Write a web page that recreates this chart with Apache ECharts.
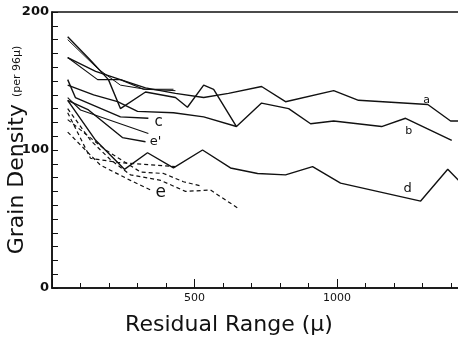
<!DOCTYPE html>
<html>
<head>
<meta charset="utf-8">
<script src="https://cdn.jsdelivr.net/npm/echarts@6/dist/echarts.min.js"></script>
<style>
  html, body { margin: 0; padding: 0; background: #fff; }
  #myChart { width: 458px; height: 338px; }
</style>
</head>
<body>
<div id="myChart"></div>
<script>
// curves, [residual range, grain density]
const curveA = [[55,167],[153,157],[240,151],[328,145],[433,141],[532,138],[619,141],[735,146],[819,135],[988,143],[1075,136],[1318,133],[1398,121],[1426,121]];
const curveB = [[55,147],[146,140],[230,135],[300,128],[426,127],[532,124],[647,117],[735,134],[830,130],[907,119],[988,121],[1156,117],[1240,123],[1402,107]];
const curveC = [[55,151],[82,138],[240,124],[338,123]];
const curveD = [[55,136],[153,107],[254,86],[335,98],[426,87],[528,100],[626,87],[721,83],[819,82],[914,88],[1012,76],[1293,63],[1388,86],[1426,78]];
const curveE1 = [[55,136],[128,129],[247,109],[328,106]];
const short1 = [[55,182],[135,165],[198,151],[240,130],[328,142],[433,138],[475,131],[532,147],[567,144],[647,117]];
const short2 = [[55,180],[160,159],[240,147],[328,144],[433,143]];
const short3 = [[55,167],[160,151],[240,151],[321,144],[426,144]];
const short4 = [[55,138],[100,129],[338,112]];
const dashed1 = [[55,130],[135,107],[205,93],[275,82],[381,78],[468,70],[556,71],[651,58]];
const dashed2 = [[55,127],[135,94],[230,91],[433,88]];
const dashed3 = [[55,113],[170,89],[275,78],[346,71]];
const dashed4 = [[55,122],[188,100],[311,84],[391,83],[461,77],[521,74]];

const labelNames = ["a", "b", "c", "d", "e'", "e"];
const labelX = [1314, 1251, 374, 1247, 363, 381];
const labelY = [136, 114, 120, 72, 106, 69];

const xTickLabels = [500, 1000];
const yTickLabels = [0, 100, 200];

// label glyph sizes (style only)
const labelFontSizes = [11, 11, 15, 13, 13, 17];

let myChart = echarts.init(document.getElementById("myChart"));

const ink = "#111";
function solid(data, w) {
  return { type: "line", data: data, symbol: "none", silent: true,
    lineStyle: { color: ink, width: w || 1.4 } };
}
function dashed(data) {
  return { type: "line", data: data, symbol: "none", silent: true,
    lineStyle: { color: ink, width: 1.2, type: [4, 3] } };
}

let option = {
  backgroundColor: "#fff",
  animation: false,
  grid: { left: 52, top: 12, right: -6, bottom: 50, outerBoundsMode: "none", containLabel: false,
    show: true, borderColor: ink, borderWidth: 1.5 },
  xAxis: {
    type: "value", min: 0, max: 1445, interval: 500,
    name: "Residual Range (μ)", nameLocation: "middle", nameGap: 26, nameMoveOverlap: false,
    nameTextStyle: { fontFamily: "DejaVu Sans", fontSize: 22, color: ink, padding: [0, 58, 0, 0] },
    axisLine: { lineStyle: { color: ink, width: 1.5 } },
    axisTick: { inside: true, length: 9, lineStyle: { color: ink } },
    minorTick: { show: true, splitNumber: 5, length: 5, lineStyle: { color: ink } },
    splitLine: { show: false },
    axisLabel: { color: ink, fontSize: 11, margin: 5, fontFamily: "DejaVu Sans",
      formatter: v => xTickLabels.includes(v) ? String(v) : "" }
  },
  yAxis: {
    type: "value", min: 0, max: 200, interval: 100,
    name: "Grain Density {s|(per 96μ)}", nameLocation: "middle", nameGap: 24, nameMoveOverlap: false,
    nameTextStyle: { fontFamily: "DejaVu Sans", fontSize: 22, color: ink,
      rich: { s: { fontSize: 11, color: ink, fontFamily: "DejaVu Sans" } } },
    axisLine: { lineStyle: { color: ink, width: 1.5 } },
    axisTick: { inside: true, length: 6, lineStyle: { color: ink } },
    minorTick: { show: true, splitNumber: 10, length: 6, lineStyle: { color: ink } },
    splitLine: { show: false },
    axisLabel: { color: ink, fontSize: 13, fontWeight: "bold", margin: 3, fontFamily: "DejaVu Sans",
      formatter: v => yTickLabels.includes(v) ? String(v) : "" }
  },
  series: [
    solid(curveA), solid(curveB), solid(curveC), solid(curveD), solid(curveE1),
    solid(short1), solid(short2, 1), solid(short3, 1.1), solid(short4, 1.1),
    dashed(dashed1), dashed(dashed2), dashed(dashed3), dashed(dashed4),
    {
      type: "scatter", symbolSize: 0, silent: true, itemStyle: { color: ink, opacity: 1 },
      data: labelNames.map((n, i) => ({ name: n, value: [labelX[i], labelY[i]],
        label: { fontSize: labelFontSizes[i] } })),
      label: { show: true, position: "inside", formatter: p => p.name,
        color: ink, opacity: 1, textBorderWidth: 0, fontFamily: "DejaVu Sans" }
    }
  ]
};

myChart.setOption(option);
</script>
</body>
</html>
